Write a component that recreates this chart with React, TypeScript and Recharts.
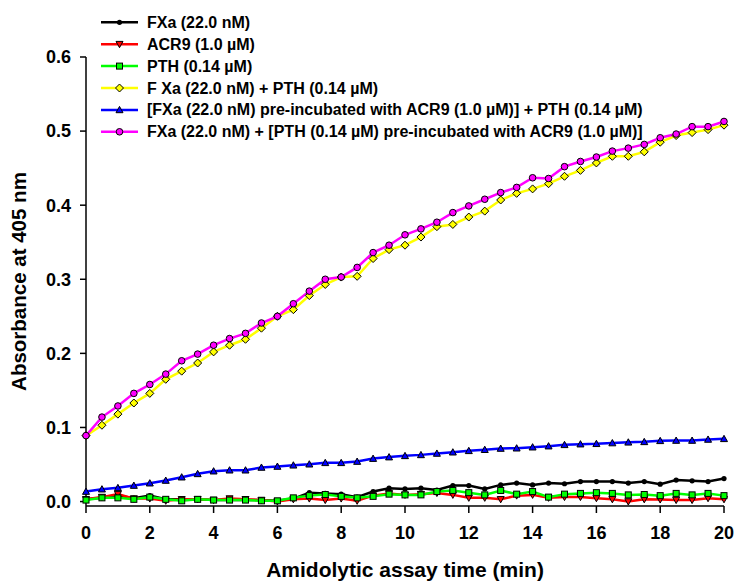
import React from 'react';
import { LineChart, Line, XAxis, YAxis } from 'recharts';

// the chart is laid out in page pixels, so drop the default body margin
document.body.style.margin = '0';

const time = [0, 0.5, 1, 1.5, 2, 2.5, 3, 3.5, 4, 4.5, 5, 5.5, 6, 6.5, 7, 7.5, 8, 8.5, 9, 9.5, 10,
  10.5, 11, 11.5, 12, 12.5, 13, 13.5, 14, 14.5, 15, 15.5, 16, 16.5, 17, 17.5, 18, 18.5, 19, 19.5, 20];

const fxa = [0.003, 0.005, 0.008, 0.0045, 0.008, 0.003, 0.003, 0.003, 0.002, 0.002, 0.002,
  0.002, 0.001, 0.004, 0.012, 0.011, 0.010, 0.006, 0.0135, 0.018, 0.017,
  0.018, 0.0155, 0.0216, 0.0216, 0.017, 0.0225, 0.025, 0.0225, 0.025, 0.024,
  0.027, 0.027, 0.027, 0.025, 0.027, 0.0235, 0.029, 0.028, 0.027, 0.031];

const acr9 = [0.003, 0.006, 0.010, 0.004, 0.004, 0.001, 0.003, 0.003, 0.002, 0.004, 0.003,
  0.002, 0.0, 0.003, 0.004, 0.002, 0.004, 0.001, 0.008, 0.011, 0.009,
  0.010, 0.0115, 0.009, 0.005, 0.005, 0.003, 0.008, 0.009, 0.005, 0.006,
  0.006, 0.0045, 0.003, 0.0, 0.003, 0.0027, 0.002, 0.002, 0.0045, 0.003];

const pth = [0.002, 0.005, 0.005, 0.003, 0.006, 0.003, 0.001, 0.003, 0.002, 0.002, 0.002,
  0.001, 0.001, 0.005, 0.008, 0.0095, 0.007, 0.005, 0.007, 0.010, 0.009,
  0.009, 0.0135, 0.015, 0.012, 0.009, 0.015, 0.010, 0.0135, 0.006, 0.010,
  0.011, 0.012, 0.011, 0.009, 0.0095, 0.008, 0.011, 0.009, 0.011, 0.008];

const fxaPth = [0.089, 0.103, 0.118, 0.133, 0.146, 0.165, 0.176, 0.187, 0.202, 0.211, 0.219,
  0.234, 0.250, 0.259, 0.278, 0.293, 0.303, 0.304, 0.328, 0.340, 0.346,
  0.357, 0.371, 0.374, 0.384, 0.392, 0.407, 0.416, 0.422, 0.429, 0.439,
  0.447, 0.457, 0.466, 0.466, 0.472, 0.485, 0.494, 0.498, 0.502, 0.508];

const fxaAcr9Pth = [0.0135, 0.0167, 0.0185, 0.0216, 0.0248, 0.0284, 0.0329, 0.0374, 0.041, 0.0423, 0.0423,
  0.046, 0.0473, 0.049, 0.0504, 0.0523, 0.0523, 0.054, 0.058, 0.060, 0.0617,
  0.063, 0.0649, 0.0666, 0.0685, 0.070, 0.0716, 0.072, 0.0734, 0.0748, 0.0766,
  0.0775, 0.078, 0.079, 0.080, 0.0806, 0.082, 0.0824, 0.0824, 0.0838, 0.0847];

const fxaPthAcr9 = [0.089, 0.114, 0.129, 0.146, 0.158, 0.172, 0.190, 0.199, 0.211, 0.220, 0.227,
  0.241, 0.250, 0.267, 0.284, 0.300, 0.303, 0.316, 0.336, 0.346, 0.360,
  0.368, 0.377, 0.390, 0.399, 0.408, 0.417, 0.424, 0.437, 0.436, 0.452,
  0.459, 0.465, 0.473, 0.477, 0.482, 0.491, 0.496, 0.506, 0.506, 0.513];

const xTicks = [0, 2, 4, 6, 8, 10, 12, 14, 16, 18, 20];
const yTicks = [0, 0.1, 0.2, 0.3, 0.4, 0.5, 0.6];

const FONT = 'Arial, "Liberation Sans", sans-serif';

const series = [
  { key: 'fxa', name: 'FXa (22.0 nM)', color: '#000000', shape: 'dot' },
  { key: 'acr9', name: 'ACR9 (1.0 \u00b5M)', color: '#FF0000', shape: 'down' },
  { key: 'pth', name: 'PTH (0.14 \u00b5M)', color: '#00FF00', shape: 'square' },
  { key: 'fxaPth', name: 'F Xa (22.0 nM) + PTH (0.14 \u00b5M)', color: '#FFFF00', shape: 'diamond' },
  { key: 'fxaAcr9Pth', name: '[FXa (22.0 nM) pre-incubated with ACR9 (1.0 \u00b5M)] + PTH (0.14 \u00b5M)', color: '#0000FF', shape: 'up' },
  { key: 'fxaPthAcr9', name: 'FXa (22.0 nM) + [PTH (0.14 \u00b5M) pre-incubated with ACR9 (1.0 \u00b5M)]', color: '#FF00FF', shape: 'circle' },
];

const data = time.map((t, i) => ({
  t,
  fxa: fxa[i],
  acr9: acr9[i],
  pth: pth[i],
  fxaPth: fxaPth[i],
  fxaAcr9Pth: fxaAcr9Pth[i],
  fxaPthAcr9: fxaPthAcr9[i],
}));

function Marker({ cx, cy, shape, fill }: { cx: number; cy: number; shape: string; fill: string }) {
  if (cx == null || cy == null) return null;
  const s = { fill, stroke: '#000', strokeWidth: 1 };
  switch (shape) {
    case 'dot':
      return <circle cx={cx} cy={cy} r={2.6} fill="#000" />;
    case 'down':
      return <polygon points={`${cx - 3.5},${cy - 2.8} ${cx + 3.5},${cy - 2.8} ${cx},${cy + 3.5}`} {...s} />;
    case 'square':
      return <rect x={cx - 3} y={cy - 3} width={6} height={6} {...s} />;
    case 'diamond':
      return <polygon points={`${cx},${cy - 4} ${cx + 4},${cy} ${cx},${cy + 4} ${cx - 4},${cy}`} {...s} />;
    case 'up':
      return <polygon points={`${cx - 3.5},${cy + 2.8} ${cx + 3.5},${cy + 2.8} ${cx},${cy - 3.5}`} {...s} />;
    default:
      return <circle cx={cx} cy={cy} r={3.3} {...s} />;
  }
}

function YTitle(props: any) {
  const vb = props.viewBox || {};
  const cx = 18;
  const cy = vb.y + vb.height / 2;
  return (
    <text x={cx} y={cy} transform={`rotate(-90, ${cx}, ${cy})`} textAnchor="middle"
      dominantBaseline="central" fontFamily={FONT} fontWeight="bold" fontSize={20.5} fill="#000">
      Absorbance at 405 nm
    </text>
  );
}

function XTitle(props: any) {
  const vb = props.viewBox || {};
  const cx = vb.x + vb.width / 2;
  return (
    <text x={cx} y={577} textAnchor="middle" fontFamily={FONT} fontWeight="bold" fontSize={21} fill="#000">
      Amidolytic assay time (min)
    </text>
  );
}

function LegendBox() {
  return (
    <svg width={720} height={150} style={{ position: 'absolute', left: 0, top: 0, pointerEvents: 'none' }}>
      {series.map((s, i) => {
        const y = 22.3 + i * 21.9;
        return (
          <g key={s.key}>
            <line x1={101} x2={138} y1={y} y2={y} stroke={s.color} strokeWidth={2.5} />
            <Marker cx={119.5} cy={y} shape={s.shape} fill={s.color} />
            <text x={147} y={y} dominantBaseline="central" fontFamily={FONT} fontWeight="bold" fontSize={16} fill="#000">
              {s.name}
            </text>
          </g>
        );
      })}
    </svg>
  );
}

export default function App() {
  const tickStyle = { fontFamily: FONT, fontWeight: 'bold', fontSize: 18, fill: '#000' };
  return (
    <div style={{ position: 'relative', width: 735, height: 581, background: '#fff', overflow: 'hidden' }}>
      <LineChart width={735} height={581} data={data} margin={{ top: 57, right: 11, bottom: 5, left: 0 }}>
        <XAxis dataKey="t" type="number" domain={[0, 20]} ticks={xTicks} height={70}
          stroke="#000" strokeWidth={1.5} tickSize={7} tickMargin={13} tick={tickStyle}
          tickLine={{ stroke: '#000', strokeWidth: 1.5 }} label={<XTitle />} />
        <YAxis type="number" domain={[-0.006, 0.6]} ticks={yTicks} width={86}
          stroke="#000" strokeWidth={1.5} tickSize={6} tickMargin={9} tick={tickStyle}
          tickLine={{ stroke: '#000', strokeWidth: 1.5 }} tickFormatter={(v: number) => v.toFixed(1)}
          label={<YTitle />} allowDataOverflow />
        {series.map((s) => (
          <Line key={s.key} dataKey={s.key} name={s.name} type="linear" stroke={s.color} strokeWidth={2.5}
            isAnimationActive={false}
            dot={(p: any) => <Marker key={`${s.key}-${p.index}`} cx={p.cx} cy={p.cy} shape={s.shape} fill={s.color} />}
            activeDot={false} />
        ))}
      </LineChart>
      <LegendBox />
    </div>
  );
}
